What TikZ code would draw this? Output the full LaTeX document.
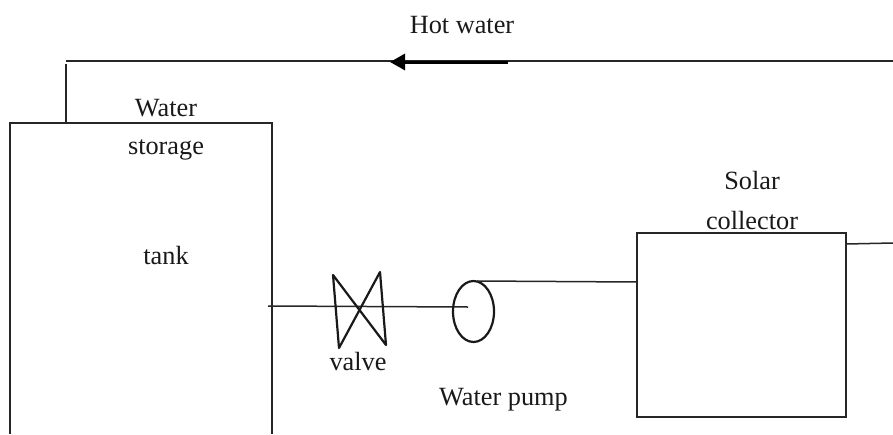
\documentclass[tikz,border=0pt]{standalone}
\usepackage{fontspec}
\setmainfont{Liberation Serif}
\usetikzlibrary{arrows.meta,shapes.geometric}
\tikzset{
  pipe/.style={draw=black!85,line width=1.5pt},
  heavy/.style={draw=black!90,line width=2.2pt},
  lbl/.style={inner sep=0pt,anchor=base,font=\fontsize{26.3}{28}\selectfont,text=black!90},
  flow/.style={draw=black,line width=3pt,-{Triangle[length=15pt,width=16pt]}},
  spot/.style={inner sep=0pt,minimum size=0pt}
}
\begin{document}
\begin{tikzpicture}[x=1pt,y=-1pt]
\useasboundingbox (0,0) rectangle (893,434);
% anchor points
\coordinate (tankBL) at (10,434);
\coordinate (tankTL) at (10,123);
\coordinate (tankTR) at (272,123);
\coordinate (tankBR) at (272,434);
\coordinate (tankOut) at (66,123);
\coordinate (corner) at (66,64);
\coordinate (hotStart) at (66,61);
\coordinate (hotEnd) at (893,61);
\coordinate (tankSide) at (268,306);
\coordinate (pumpIn) at (468,307);
\coordinate (pumpOut) at (477,281);
\coordinate (collIn) at (637,282);
\coordinate (collOut) at (846,244);
\coordinate (retEnd) at (893,243);
\coordinate (arrowStart) at (508,62);
\coordinate (arrowTip) at (390,62);
\coordinate (v1) at (333,275);
\coordinate (v2) at (386,345);
\coordinate (v3) at (380,272);
\coordinate (v4) at (339,348);
% tank
\draw[pipe] (tankBL) -- (tankTL) -- (tankTR) -- (tankBR);
% hot water line
\draw[pipe] (tankOut) -- (corner);
\draw[pipe] (hotStart) -- (hotEnd);
\draw[flow] (arrowStart) -- (arrowTip);
% valve and pump
\draw[pipe] (tankSide) -- (pumpIn);
\draw[heavy,line join=round] (v1) -- (v2) -- (v3) -- (v4) -- cycle;
\node[heavy,ellipse,spot,minimum width=41pt,minimum height=61pt] (pump) at (473.5,311.5) {};
\draw[pipe] (pumpOut) -- (collIn);
% collector
\node[pipe,rectangle,spot,minimum width=209pt,minimum height=184pt] (coll) at (741.5,325) {};
\draw[pipe] (collOut) -- (retEnd);
% labels
\node[lbl] (hot) at (462,33) {Hot water};
\node[lbl] (water) at (166,116) {Water};
\node[lbl] (storage) at (166,154) {storage};
\node[lbl] (tank) at (166,264) {tank};
\node[lbl] (valve) at (358,370) {valve};
\node[lbl] (wp) at (503.5,405) {Water pump};
\node[lbl] (solar) at (752,189) {Solar};
\node[lbl] (collector) at (752,229) {collector};
\end{tikzpicture}
\end{document}
